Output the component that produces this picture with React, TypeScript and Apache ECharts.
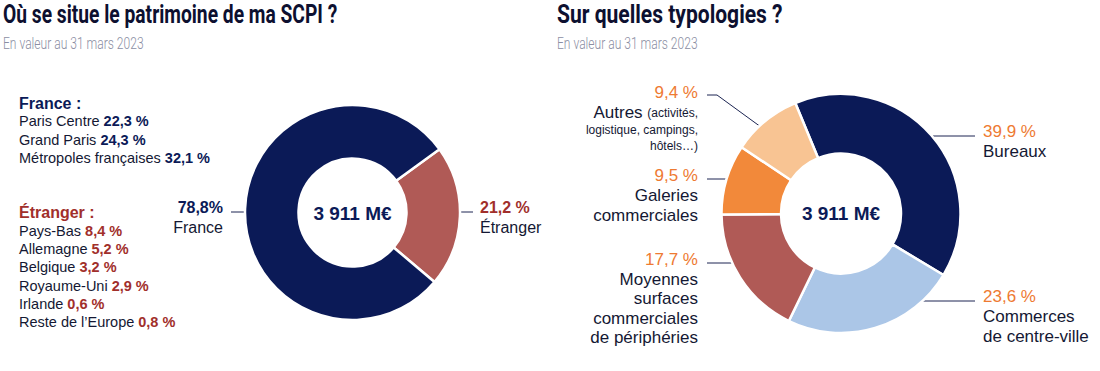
import React, { useEffect, useRef } from 'react';
import * as echarts from 'echarts';

// ---------- Data ----------
const leftTitle = 'Où se situe le patrimoine de ma SCPI ?';
const rightTitle = 'Sur quelles typologies ?';
const subtitle = 'En valeur au 31 mars 2023';
const totalValue = '3 911 M€';

const geoCategories = ['Étranger', 'France'];
const geoValues = [21.2, 78.8];
const geoPctSuffix = [' %', '%'];

const franceHeading = 'France :';
const franceRegions = ['Paris Centre', 'Grand Paris', 'Métropoles françaises'];
const franceShares = [22.3, 24.3, 32.1];

const foreignHeading = 'Étranger :';
const foreignRegions = ['Pays-Bas', 'Allemagne', 'Belgique', 'Royaume-Uni', 'Irlande', 'Reste de l’Europe'];
const foreignShares = [8.4, 5.2, 3.2, 2.9, 0.6, 0.8];

const typeCategories = ['Bureaux', 'Commerces de centre-ville', 'Moyennes surfaces commerciales de périphéries', 'Galeries commerciales', 'Autres'];
const typeValues = [39.9, 23.6, 17.7, 9.5, 9.4];
const typeLabelLines = [
  ['Bureaux'],
  ['Commerces', 'de centre-ville'],
  ['Moyennes', 'surfaces', 'commerciales', 'de périphéries'],
  ['Galeries', 'commerciales'],
  ['Autres'],
];
const typeLabelNotes = [[], [], [], [], ['(activités,', 'logistique, campings,', 'hôtels…)']];

// ---------- Styles ----------
const NAVY = '#0b1a57';
const BRICK = '#b05a56';
const LIGHTBLUE = '#abc6e7';
const ORANGE = '#f2893a';
const PEACH = '#f8c493';
const ORANGE_TEXT = '#ee7a32';
const RED_TEXT = '#a12f2b';
const TEXT_DARK = '#141833';
const TITLE = '#0d1030';
const SUB = '#8b8ea3';
const LINE = '#1c2552';
const FONT = '"Liberation Sans", Arial, sans-serif';

const geoColors = [BRICK, NAVY];
const typeColors = [NAVY, LIGHTBLUE, BRICK, ORANGE, PEACH];

const geoLabelLayout = [
  { x: 480, y: 217, align: 'left', line: [[443, 212], [458, 212], [473, 212]] },
  { x: 223, y: 217, align: 'right', line: [[246, 212], [238, 212], [231, 212]] },
];
const typeLabelLayout = [
  { x: 983, y: 141, align: 'left', line: [[933, 136], [955, 136], [975, 136]] },
  { x: 983, y: 316, align: 'left', line: [[891, 301], [930, 301], [975, 301]] },
  { x: 698, y: 298, align: 'right', line: [[753, 263], [730, 263], [707, 263]] },
  { x: 698, y: 195, align: 'right', line: [[745, 179], [725, 179], [707, 179]] },
  { x: 698, y: 118, align: 'right', line: [[776, 138], [717, 95], [707, 95]] },
];

const fmt = (v: number) => v.toFixed(1).replace('.', ',');

function buildOption(): any {
  const graphics: any[] = [];
  const titleEl = (x: number, text: string, sx: number) => ({
    type: 'text', x, y: 14, scaleX: sx,
    style: { text, font: 'bold 26px Roboto, "Liberation Sans", sans-serif', fill: TITLE, verticalAlign: 'middle', align: 'left' },
  });
  const subEl = (x: number) => ({
    type: 'text', x, y: 43, scaleX: 0.71,
    style: { text: subtitle, font: '300 17px Roboto, "Liberation Sans", sans-serif', fill: SUB, verticalAlign: 'middle', align: 'left' },
  });
  graphics.push(titleEl(3, leftTitle, 0.74), subEl(3), titleEl(557, rightTitle, 0.81), subEl(557));

  // Left legend
  graphics.push({
    type: 'text', x: 19, y: 103,
    style: { text: franceHeading, font: `bold 16px ${FONT}`, fill: NAVY, verticalAlign: 'middle' },
  });
  franceRegions.forEach((r, i) => {
    graphics.push({
      type: 'text', x: 19, y: 121 + i * 18.5,
      style: {
        text: `{n|${r} }{v|${fmt(franceShares[i])} %}`, verticalAlign: 'middle',
        rich: {
          n: { font: `14.5px ${FONT}`, fill: TEXT_DARK },
          v: { font: `bold 14.5px ${FONT}`, fill: NAVY },
        },
      },
    });
  });
  graphics.push({
    type: 'text', x: 19, y: 212,
    style: { text: foreignHeading, font: `bold 16px ${FONT}`, fill: RED_TEXT, verticalAlign: 'middle' },
  });
  foreignRegions.forEach((r, i) => {
    graphics.push({
      type: 'text', x: 19, y: 231 + i * 18.2,
      style: {
        text: `{n|${r} }{v|${fmt(foreignShares[i])} %}`, verticalAlign: 'middle',
        rich: {
          n: { font: `14.5px ${FONT}`, fill: TEXT_DARK },
          v: { font: `bold 14.5px ${FONT}`, fill: RED_TEXT },
        },
      },
    });
  });

  // centre totals
  [352.5, 841].forEach((cx) => {
    graphics.push({
      type: 'text', x: cx, y: 213,
      style: { text: totalValue, font: `bold 19px ${FONT}`, fill: NAVY, align: 'center', verticalAlign: 'middle' },
    });
  });

  const geoSeries = {
    type: 'pie',
    center: [352.5, 212.5],
    radius: [54, 107.5],
    startAngle: 36,
    clockwise: true,
    avoidLabelOverlap: false,
    silent: true,
    emphasis: { disabled: true },
    itemStyle: { borderColor: '#ffffff', borderWidth: 2.5 },
    data: geoCategories.map((name, i) => ({ name, value: geoValues[i], itemStyle: { color: geoColors[i] } })),
    label: {
      show: true,
      position: 'outside',
      fontFamily: FONT,
      formatter: (p: any) => `{p${p.dataIndex}|${fmt(p.value)}${geoPctSuffix[p.dataIndex]}}\n{n|${p.name}}`,
      rich: {
        p0: { fontFamily: FONT, fontSize: 16, fontWeight: 'bold', color: RED_TEXT, lineHeight: 20 },
        p1: { fontFamily: FONT, fontSize: 16, fontWeight: 'bold', color: NAVY, lineHeight: 20 },
        n: { fontFamily: FONT, fontSize: 16, color: TEXT_DARK, lineHeight: 20 },
      },
    },
    labelLine: { show: true, lineStyle: { color: LINE, width: 1 } },
    labelLayout: (p: any) => {
      const L = geoLabelLayout[p.dataIndex];
      return { x: L.x, y: L.y, align: L.align, verticalAlign: 'middle', labelLinePoints: L.line };
    },
  };

  const typeSeries = {
    type: 'pie',
    center: [841, 213.5],
    radius: [60, 119.5],
    startAngle: 112.5,
    clockwise: true,
    avoidLabelOverlap: false,
    silent: true,
    emphasis: { disabled: true },
    itemStyle: { borderColor: '#ffffff', borderWidth: 2.5 },
    data: typeCategories.map((name, i) => ({ name, value: typeValues[i], itemStyle: { color: typeColors[i] } })),
    label: {
      show: true,
      position: 'outside',
      fontFamily: FONT,
      formatter: (p: any) => {
        const i = p.dataIndex;
        const lines = [`{pct|${fmt(p.value)} %}`];
        const notes = typeLabelNotes[i];
        typeLabelLines[i].forEach((t, k) => {
          lines.push(k === 0 && notes.length ? `{txt|${t} }{sm|${notes[0]}}` : `{txt|${t}}`);
        });
        notes.slice(1).forEach((t) => lines.push(`{sm|${t}}`));
        return lines.join('\n');
      },
      rich: {
        pct: { fontFamily: FONT, fontSize: 17, color: ORANGE_TEXT, lineHeight: 21 },
        txt: { fontFamily: FONT, fontSize: 17, color: TEXT_DARK, lineHeight: 19.5 },
        sm: { fontFamily: FONT, fontSize: 12, color: TEXT_DARK, lineHeight: 16 },
      },
    },
    labelLine: { show: true, lineStyle: { color: LINE, width: 1 } },
    labelLayout: (p: any) => {
      const L = typeLabelLayout[p.dataIndex];
      return { x: L.x, y: L.y, align: L.align, verticalAlign: 'middle', labelLinePoints: L.line };
    },
  };

  return {
    animation: false,
    backgroundColor: '#ffffff',
    series: [geoSeries, typeSeries],
    graphic: graphics,
  };
}

export default function App() {
  const ref = useRef<HTMLDivElement>(null);
  useEffect(() => {
    document.body.style.margin = '0';
    if (!ref.current) return;
    const chart = echarts.init(ref.current, undefined, { renderer: 'svg' });
    chart.setOption(buildOption());
    return () => chart.dispose();
  }, []);
  return <div ref={ref} style={{ width: 1100, height: 371 }} />;
}
